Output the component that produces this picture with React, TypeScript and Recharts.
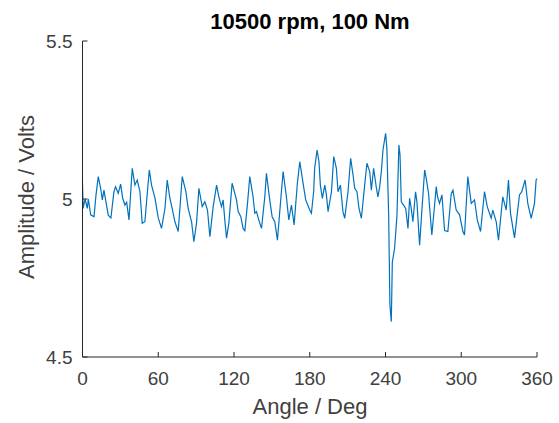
import React from "react";
import { LineChart, Line, XAxis, YAxis } from "recharts";

const angle = [
  0, 0.5, 2, 3.8, 4.6, 6.5, 9.1, 10.7, 12.5, 14.4, 15.7, 17, 18.6, 20.4, 22.5, 24.9, 26.2, 28.3, 30.2, 31.8,
  33.6, 35, 36.8, 39.4, 41.5, 43.4, 45.5, 47.3, 49.4, 52.9, 54.7, 57.4, 60, 62.6, 65.3, 67.1, 69.2, 71, 73.2, 75.8,
  79, 81.9, 83.7, 86.4, 88.2, 90.3, 92.2, 94.8, 96.9, 99, 100.9, 103.5, 106.2, 108, 110.1, 111.4, 112.7, 114.1, 115.9, 118.5,
  122, 123.3, 125.4, 127.2, 128.6, 130.7, 132.5, 135.1, 136.5, 137.8, 139.6, 141.8, 144.4, 145.7, 148.3, 150.2, 152.3, 154.4, 157, 158.9,
  161.5, 163.4, 165.5, 167.6, 170.2, 172.1, 174.7, 176.8, 180, 181.3, 183.1, 183.9, 185.8, 187.3, 188.4, 190, 191.9, 193.2, 194.5, 197.2,
  199, 201.1, 202.4, 204.3, 206.3, 207.7, 210.3, 212.4, 214.3, 215.6, 217.4, 219, 220.9, 223.5, 225.3, 227.5, 228.8, 230.6, 232.8, 234,
  235.4, 236.7, 238, 240.1, 241.1, 242.5, 243.5, 244.6, 245.4, 247.2, 249.1, 250.6, 251.5, 252.5, 254.4, 256, 257.8, 259.1, 260.4, 261.7,
  263.8, 264.9, 267, 269.1, 271, 272.5, 274.1, 274.9, 276.7, 278.3, 280.2, 281.2, 282.8, 284.7, 286.8, 289.4, 292.1, 293.4, 296, 298.7,
  301.3, 302.6, 305.2, 307.9, 310.5, 312.7, 315.3, 318.4, 320.6, 323.7, 325, 327.7, 329.5, 332.9, 335.6, 337.4, 339, 342.2, 346.1, 347.9,
  350.6, 352.7, 355.4, 358, 359.3, 360,
];

const amplitude = [
  5.05, 4.97, 5.0, 4.97, 5.0, 4.95, 4.944, 5.013, 5.071, 5.034, 4.997, 5.028, 4.99, 4.949, 4.94, 5.023, 5.039, 5.018, 5.047, 5.003,
  4.981, 4.99, 4.934, 5.097, 5.044, 5.06, 5.023, 4.923, 4.928, 5.092, 5.044, 5.003, 4.94, 4.907, 4.97, 5.06, 5.003, 4.97, 4.928, 4.897,
  5.071, 5.023, 4.97, 4.928, 4.865, 4.923, 5.034, 4.976, 4.991, 4.965, 4.881, 4.976, 5.044, 5.007, 4.976, 4.997, 4.934, 4.876, 4.923, 5.05,
  4.997, 4.96, 4.944, 4.907, 4.9, 4.986, 5.071, 5.007, 4.955, 4.96, 4.934, 4.907, 5.007, 5.081, 4.997, 4.944, 4.928, 4.87, 4.997, 5.087,
  5.007, 4.934, 4.981, 4.918, 5.05, 5.118, 5.05, 4.997, 4.965, 4.955, 5.023, 5.097, 5.155, 5.118, 5.044, 5.002, 5.044, 5.013, 4.96, 5.023,
  5.134, 5.097, 5.023, 5.044, 4.96, 4.939, 5.023, 5.129, 5.076, 5.034, 5.023, 4.97, 4.939, 5.044, 5.113, 5.087, 5.028, 5.097, 5.034, 5.007,
  5.039, 5.087, 5.155, 5.208, 5.16, 4.949, 4.665, 4.612, 4.8, 4.844, 4.949, 5.171, 5.14, 4.991, 4.98, 4.97, 4.907, 5.002, 4.97, 4.928,
  5.023, 4.991, 4.854, 4.98, 5.092, 5.06, 5.018, 4.976, 4.886, 4.955, 5.039, 5.007, 4.986, 5.013, 4.9, 4.897, 5.018, 5.028, 4.965, 4.95,
  4.897, 4.886, 5.071, 4.986, 4.997, 4.934, 4.897, 5.023, 4.976, 4.939, 4.965, 4.928, 4.87, 5.007, 4.965, 5.06, 4.955, 4.877, 5.013, 5.023,
  5.06, 4.986, 4.939, 4.986, 5.06, 5.065,
];

const xTicks = [0, 60, 120, 180, 240, 300, 360];
const yTicks = [4.5, 5, 5.5];

const title = "10500 rpm, 100 Nm";
const xLabel = "Angle / Deg";
const yLabel = "Amplitude / Volts";

const data = angle.map((a, i) => ({ angle: a, amp: amplitude[i] }));

const FONT = "'Liberation Sans', Arial, Helvetica, sans-serif";
const AXIS = "#262626";
const TEXT = "#404040";

function XTick({ x, y, payload }: any) {
  return (
    <g>
      <line x1={x} x2={x} y1={y} y2={y - 5} stroke={AXIS} strokeWidth={1} />
      <text x={x} y={y + 28} textAnchor="middle" fontSize={19} fill={TEXT} fontFamily={FONT}>
        {payload.value}
      </text>
    </g>
  );
}

function YTick({ x, y, payload }: any) {
  return (
    <g>
      <line x1={x} x2={x + 5} y1={y} y2={y} stroke={AXIS} strokeWidth={1} />
      <text x={x - 10} y={y + 7} textAnchor="end" fontSize={19} fill={TEXT} fontFamily={FONT}>
        {payload.value}
      </text>
    </g>
  );
}

export default function App() {
  return (
    <div style={{ position: "absolute", left: 0, top: 0, width: 559, height: 423, background: "#fff" }}>
      <LineChart width={559} height={423} data={data} margin={{ top: 41, right: 22, bottom: 36, left: 0 }}>
        <XAxis
          type="number"
          dataKey="angle"
          domain={[0, 360]}
          ticks={xTicks}
          height={30}
          tickSize={0}
          tickMargin={0}
          tickLine={false}
          axisLine={{ stroke: AXIS, strokeWidth: 1 }}
          tick={<XTick />}
          interval={0}
        />
        <YAxis
          type="number"
          domain={[4.5, 5.5]}
          ticks={yTicks}
          width={82.5}
          tickSize={0}
          tickMargin={0}
          tickLine={false}
          axisLine={{ stroke: AXIS, strokeWidth: 1 }}
          tick={<YTick />}
          interval={0}
        />
        <Line
          type="linear"
          dataKey="amp"
          stroke="#0072BD"
          strokeWidth={1.2}
          dot={false}
          isAnimationActive={false}
        />
      </LineChart>
      <svg
        width={559}
        height={423}
        style={{ position: "absolute", left: 0, top: 0, pointerEvents: "none" }}
      >
        <text x={310} y={29} textAnchor="middle" fontSize={22} fontWeight="bold" fill="#000" fontFamily={FONT}>
          {title}
        </text>
        <text x={310} y={414} textAnchor="middle" fontSize={22} fill={TEXT} fontFamily={FONT}>
          {xLabel}
        </text>
        <text
          x={0}
          y={0}
          transform="translate(34 197) rotate(-90)"
          textAnchor="middle"
          fontSize={22}
          fill={TEXT}
          fontFamily={FONT}
        >
          {yLabel}
        </text>
      </svg>
    </div>
  );
}
